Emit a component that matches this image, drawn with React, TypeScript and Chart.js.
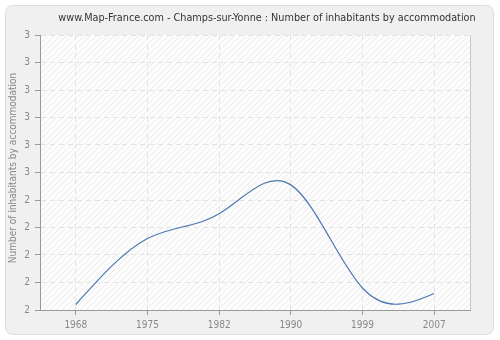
import React, { useEffect, useRef } from "react";
import { Chart, registerables } from "chart.js";

Chart.register(...registerables);

const titleText = "www.Map-France.com - Champs-sur-Yonne : Number of inhabitants by accommodation";
const yAxisTitle = "Number of inhabitants by accommodation";
const years = ["1968", "1975", "1982", "1990", "1999", "2007"];
const inhabitantsPerHome = [2.02, 2.26, 2.35, 2.455, 2.08, 2.06];
const yTickLabels = ["2", "2", "2", "2", "2", "3", "3", "3", "3", "3", "3"];
const yMin = 2;
const yMax = 3;
const yStep = 0.1;

const FONT = "'DejaVu Sans Condensed', 'Liberation Sans', sans-serif";

function makePattern(ctx: CanvasRenderingContext2D) {
  const c = document.createElement("canvas");
  const s = 6;
  c.width = s;
  c.height = s;
  const p = c.getContext("2d")!;
  p.fillStyle = "#fcfcfc";
  p.fillRect(0, 0, s, s);
  p.strokeStyle = "#ececec";
  p.lineWidth = 1;
  p.beginPath();
  p.moveTo(0, s);
  p.lineTo(s, 0);
  p.moveTo(-s, s);
  p.lineTo(s, -s);
  p.moveTo(0, 2 * s);
  p.lineTo(2 * s, 0);
  p.stroke();
  return ctx.createPattern(c, "repeat");
}

const backgroundPlugin = {
  id: "bgPanel",
  beforeDraw(chart: any) {
    const { ctx, chartArea } = chart;
    ctx.save();
    ctx.fillStyle = "#ffffff";
    ctx.fillRect(0, 0, chart.width, chart.height);
    const x = 5.5, y = 5.5, w = 488, h = 329, r = 8;
    ctx.beginPath();
    ctx.moveTo(x + r, y);
    ctx.lineTo(x + w - r, y);
    ctx.quadraticCurveTo(x + w, y, x + w, y + r);
    ctx.lineTo(x + w, y + h - r);
    ctx.quadraticCurveTo(x + w, y + h, x + w - r, y + h);
    ctx.lineTo(x + r, y + h);
    ctx.quadraticCurveTo(x, y + h, x, y + h - r);
    ctx.lineTo(x, y + r);
    ctx.quadraticCurveTo(x, y, x + r, y);
    ctx.closePath();
    ctx.fillStyle = "#f0f0f0";
    ctx.fill();
    ctx.strokeStyle = "#dddddd";
    ctx.lineWidth = 1;
    ctx.stroke();

    const pat = makePattern(ctx);
    ctx.fillStyle = pat || "#fafafa";
    ctx.fillRect(chartArea.left, chartArea.top, chartArea.right - chartArea.left, chartArea.bottom - chartArea.top);
    ctx.strokeStyle = "#c8c8c8";
    ctx.beginPath();
    ctx.moveTo(chartArea.right + 0.5, chartArea.top);
    ctx.lineTo(chartArea.right + 0.5, chartArea.bottom);
    ctx.stroke();

    ctx.fillStyle = "#333333";
    ctx.font = `10.75px ${FONT}`;
    ctx.textAlign = "center";
    ctx.textBaseline = "middle";
    ctx.fillText(titleText, 267, 18);

    ctx.save();
    ctx.translate(13, 168);
    ctx.rotate(-Math.PI / 2);
    ctx.fillStyle = "#888888";
    ctx.font = `10px ${FONT}`;
    ctx.fillText(yAxisTitle, 0, 0);
    ctx.restore();
    ctx.restore();
  },
};

// Natural cubic spline through the points the library placed (sets bezier control points).
const splinePlugin = {
  id: "naturalSpline",
  beforeDatasetsDraw(chart: any) {
    chart.getSortedVisibleDatasetMetas().forEach((meta: any) => {
      const pts = meta.data;
      const line = meta.dataset;
      const n = pts.length;
      if (n < 3 || !line) return;
      const xs = pts.map((p: any) => p.x);
      const ys = pts.map((p: any) => p.y);
      const h: number[] = [];
      for (let i = 0; i < n - 1; i++) h.push(xs[i + 1] - xs[i]);
      const M = new Array(n).fill(0);
      const m = n - 2;
      const a: number[] = [], b: number[] = [], c: number[] = [], d: number[] = [];
      for (let k = 0; k < m; k++) {
        const i = k + 1;
        a.push(h[i - 1]);
        b.push(2 * (h[i - 1] + h[i]));
        c.push(h[i]);
        d.push(6 * ((ys[i + 1] - ys[i]) / h[i] - (ys[i] - ys[i - 1]) / h[i - 1]));
      }
      const cp: number[] = [], dp: number[] = [];
      for (let k = 0; k < m; k++) {
        const den = b[k] - (k > 0 ? a[k] * cp[k - 1] : 0);
        cp.push(c[k] / den);
        dp.push((d[k] - (k > 0 ? a[k] * dp[k - 1] : 0)) / den);
      }
      for (let k = m - 1; k >= 0; k--) {
        M[k + 1] = dp[k] - (k < m - 1 ? cp[k] * M[k + 2] : 0);
      }
      const der: number[] = [];
      for (let i = 0; i < n - 1; i++) {
        der.push((ys[i + 1] - ys[i]) / h[i] - (h[i] * (2 * M[i] + M[i + 1])) / 6);
      }
      der.push((ys[n - 1] - ys[n - 2]) / h[n - 2] + (h[n - 2] * (M[n - 2] + 2 * M[n - 1])) / 6);
      for (let i = 0; i < n - 1; i++) {
        pts[i].cp2x = xs[i] + h[i] / 3;
        pts[i].cp2y = ys[i] + (h[i] / 3) * der[i];
        pts[i + 1].cp1x = xs[i + 1] - h[i] / 3;
        pts[i + 1].cp1y = ys[i + 1] - (h[i] / 3) * der[i + 1];
      }
      pts[0].cp1x = xs[0];
      pts[0].cp1y = ys[0];
      pts[n - 1].cp2x = xs[n - 1];
      pts[n - 1].cp2y = ys[n - 1];
      line._pointsUpdated = true;
      line._path = undefined;
    });
  },
};

export default function App() {
  const ref = useRef<HTMLCanvasElement>(null);
  useEffect(() => {
    const chart = new Chart(ref.current!, {
      type: "line",
      data: {
        labels: years,
        datasets: [
          {
            data: inhabitantsPerHome,
            borderColor: "#4a78b0",
            borderWidth: 1.2,
            pointRadius: 0,
            fill: false,
            tension: 0.4,
          },
        ],
      },
      plugins: [backgroundPlugin, splinePlugin],
      options: {
        responsive: false,
        animation: false,
        layout: { padding: { top: 35, right: 30, left: 0, bottom: 0 } },
        plugins: { legend: { display: false }, title: { display: false }, tooltip: { enabled: false } },
        scales: {
          x: {
            type: "category",
            offset: true,
            grid: { offset: false, color: "#e2e2e2", tickColor: "#999999", tickLength: 5, lineWidth: 1 },
            border: { color: "#999999", dash: [5, 4] },
            ticks: { color: "#888888", font: { family: FONT, size: 10 }, padding: 4, maxRotation: 0 },
            afterFit: (s: any) => {
              s.height = 30;
            },
          },
          y: {
            min: yMin,
            max: yMax,
            grid: { color: "#e2e2e2", tickColor: "#999999", tickLength: 5, lineWidth: 1 },
            border: { color: "#999999", dash: [5, 4] },
            ticks: {
              stepSize: yStep,
              color: "#888888",
              font: { family: FONT, size: 10 },
              padding: 5,
              callback: (_v: any, i: number) => yTickLabels[i],
            },
            afterFit: (s: any) => {
              s.width = 40;
            },
          },
        },
      },
    });
    return () => chart.destroy();
  }, []);
  return (
    <div style={{ position: "fixed", left: 0, top: 0, width: 500, height: 340 }}>
      <canvas ref={ref} width={500} height={340} style={{ display: "block" }} />
    </div>
  );
}
